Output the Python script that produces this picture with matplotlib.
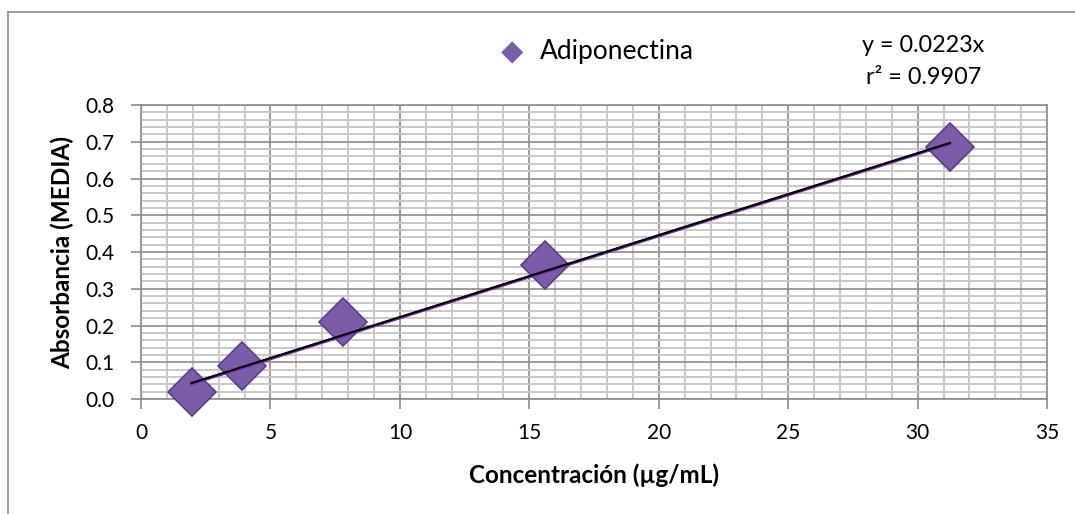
import matplotlib
matplotlib.use("Agg")
import matplotlib.pyplot as plt
import numpy as np
from matplotlib.ticker import MultipleLocator

plt.rcParams['font.family'] = ['Lato', 'DejaVu Sans']

conc = [1.95, 3.9, 7.8, 15.6, 31.25]
absorb = [0.02, 0.09, 0.21, 0.365, 0.685]
slope = 0.0223
series_name = "Adiponectina"
eq_text = "y = 0.0223x"
r2_text = "r² = 0.9907"

fig = plt.figure(figsize=(10.75, 5.14), dpi=100)
ax = fig.add_axes([0.1312, 0.2237, 0.8428, 0.572])

ax.set_xlim(0, 35)
ax.set_ylim(0, 0.8)
ax.xaxis.set_major_locator(MultipleLocator(5))
ax.xaxis.set_minor_locator(MultipleLocator(1))
ax.yaxis.set_major_locator(MultipleLocator(0.1))
ax.yaxis.set_minor_locator(MultipleLocator(0.02))
ax.grid(which='minor', color='#c8c8c8', linewidth=1.4)
ax.grid(which='major', color='#8c8c8c', linewidth=1.2)
ax.set_axisbelow(True)
for s in ax.spines.values():
    s.set_color('#8c8c8c')
    s.set_linewidth(1.2)
ax.tick_params(which='major', direction='out', length=7, width=1.2, color='#8c8c8c',
               labelsize=15)
ax.tick_params(axis='y', pad=12)
ax.tick_params(axis='x', pad=10)
ax.tick_params(which='minor', length=0)
ax.yaxis.set_major_formatter(matplotlib.ticker.FormatStrFormatter('%.1f'))

ax.plot(conc, absorb, linestyle='none', marker='D', markersize=24,
        markerfacecolor='#7b5ca8', markeredgecolor='#5a3f85', markeredgewidth=1.2,
        zorder=3, clip_on=False)

xt = np.array([conc[0], conc[-1]])
ax.plot(xt, slope * xt - 0.002, color='#7030a0', linewidth=2.2, zorder=4)
ax.plot(xt, slope * xt, color='black', linewidth=1.5, zorder=5)

ax.set_xlabel("Concentración (µg/mL)", fontsize=17.5, fontweight='bold', labelpad=15)
ax.set_ylabel("Absorbancia (MEDIA)", fontsize=17.5, fontweight='bold', labelpad=8)

fig.text(512/1075, 1 - 52/514, "\u25c6", color='#7b5ca8', fontsize=21,
         ha='center', va='center', family='DejaVu Sans')
fig.text(540/1075, 1 - 52/514, series_name, fontsize=19, ha='left', va='center')
fig.text(923/1075, 1 - 45/514, eq_text, fontsize=16.8, ha='center', va='center')
fig.text(924/1075, 1 - 77/514, r2_text, fontsize=16.8, ha='center', va='center')

# outer chart border (left and top visible)
fig.add_artist(plt.Line2D([8/1075, 8/1075], [0, 1 - 12/514], color='#8c8c8c', linewidth=1.2))
fig.add_artist(plt.Line2D([8/1075, 1], [1 - 12/514, 1 - 12/514], color='#8c8c8c', linewidth=1.2))

fig.savefig("out.png", dpi=100)
